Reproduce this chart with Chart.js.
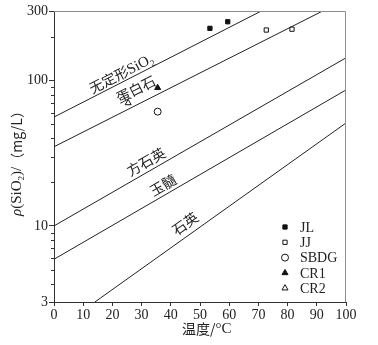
<!DOCTYPE html>
<html>
<head>
<meta charset="utf-8">
<script src="https://cdn.jsdelivr.net/npm/chart.js@4"></script>
<style>
  html, body { margin: 0; padding: 0; background: #fff; }
  #wrap { width: 378px; height: 345px; }
</style>
</head>
<body>
<div id="wrap"><canvas id="chart" width="378" height="345"></canvas></div>
<script>
// solubility lines (temperature °C, SiO2 mg/L)
const lineNames = ['无定形SiO', '蛋白石', '方石英', '玉髓', '石英'];
const lineT = [[0, 71], [0, 92], [0, 100], [0, 100], [14, 100]];
const lineC = [[56, 300], [35, 300], [10, 143], [5.9, 86], [3, 51]];
// label centre for each line
const labelT = [23.0, 28.0, 31.5, 37.3, 44.9];
const labelC = [112, 87, 27.6, 19.1, 10.4];

// samples
const sampleNames = ['JL', 'JJ', 'SBDG', 'CR1', 'CR2'];
const sampleT = [[53.4, 59.5], [72.7, 81.5], [35.5], [35.5], [25.4]];
const sampleC = [[228, 253], [222, 225], [61], [89], [70]];

const xTicks = [0, 10, 20, 30, 40, 50, 60, 70, 80, 90, 100];
const yTicks = [3, 10, 100, 300];
const yMinor = [4, 5, 6, 7, 8, 9, 20, 30, 40, 50, 60, 70, 80, 90, 200];

const serif = '"Liberation Serif", "Times New Roman", serif';
const cjk = '"Noto Sans CJK SC", sans-serif';

const markerStyle = [
  {pointStyle: 'rect', radius: 3, bg: '#111', border: '#111'},
  {pointStyle: 'rect', radius: 3, bg: '#fff', border: '#111'},
  {pointStyle: 'circle', radius: 3.5, bg: '#fff', border: '#111'},
  {pointStyle: 'triangle', radius: 3.5, bg: '#111', border: '#111'},
  {pointStyle: 'triangle', radius: 3.5, bg: '#fff', border: '#111'}
];

const datasets = [];
lineNames.forEach((n, i) => {
  datasets.push({
    type: 'line',
    label: n,
    data: lineT[i].map((t, j) => ({x: t, y: lineC[i][j]})),
    borderColor: '#222',
    borderWidth: 1,
    pointRadius: 0,
    fill: false
  });
});
sampleNames.forEach((n, i) => {
  const m = markerStyle[i];
  datasets.push({
    type: 'scatter',
    label: n,
    data: sampleT[i].map((t, j) => ({x: t, y: sampleC[i][j]})),
    pointStyle: m.pointStyle,
    pointRadius: m.radius,
    backgroundColor: m.bg,
    borderColor: m.border,
    borderWidth: 1
  });
});

const extras = {
  id: 'extras',
  afterDraw(chart) {
    const ctx = chart.ctx;
    const xs = chart.scales.x, ys = chart.scales.y;
    const a = chart.chartArea;
    ctx.save();
    // frame top/right
    ctx.strokeStyle = '#8a8f94';
    ctx.lineWidth = 1;
    ctx.beginPath();
    ctx.moveTo(a.left, a.top + 0.5);
    ctx.lineTo(a.right - 0.5, a.top + 0.5);
    ctx.lineTo(a.right - 0.5, a.bottom);
    ctx.stroke();
    // minor y ticks
    ctx.strokeStyle = '#333';
    ctx.beginPath();
    yMinor.forEach(v => {
      const py = Math.round(ys.getPixelForValue(v)) + 0.5;
      ctx.moveTo(a.left - 3, py);
      ctx.lineTo(a.left, py);
    });
    ctx.stroke();

    // line labels
    ctx.fillStyle = '#222';
    lineNames.forEach((n, i) => {
      const x0 = xs.getPixelForValue(lineT[i][0]), y0 = ys.getPixelForValue(lineC[i][0]);
      const x1 = xs.getPixelForValue(lineT[i][1]), y1 = ys.getPixelForValue(lineC[i][1]);
      const ang = Math.atan2(y1 - y0, x1 - x0);
      const px = xs.getPixelForValue(labelT[i]), py = ys.getPixelForValue(labelC[i]);
      ctx.save();
      ctx.translate(px, py);
      ctx.rotate(ang);
      ctx.textBaseline = 'middle';
      if (i === 0) {
        ctx.font = '14px ' + cjk;
        const w1 = ctx.measureText('无定形').width;
        ctx.font = '15px ' + serif;
        const w2 = ctx.measureText('SiO').width;
        ctx.font = '9px ' + serif;
        const w3 = ctx.measureText('2').width;
        let sx = -(w1 + w2 + w3) / 2;
        ctx.textAlign = 'left';
        ctx.font = '14px ' + cjk;
        ctx.fillText('无定形', sx, 0);
        ctx.font = '15px ' + serif;
        ctx.fillText('SiO', sx + w1, 1);
        ctx.font = '9px ' + serif;
        ctx.fillText('2', sx + w1 + w2, 6);
      } else {
        ctx.font = '14px ' + cjk;
        ctx.textAlign = 'center';
        ctx.fillText(n, 0, 0);
      }
      ctx.restore();
    });

    // legend
    const lx = 285, ly0 = 227, dy = 15.3;
    sampleNames.forEach((n, i) => {
      const m = markerStyle[i];
      const y = ly0 + i * dy;
      ctx.save();
      ctx.fillStyle = m.bg;
      ctx.strokeStyle = m.border;
      ctx.lineWidth = 1;
      Chart.helpers.drawPoint(ctx, {pointStyle: m.pointStyle, radius: m.radius, borderWidth: 1}, lx, y);
      ctx.restore();
      ctx.fillStyle = '#222';
      ctx.font = '14px ' + serif;
      ctx.textAlign = 'left';
      ctx.textBaseline = 'middle';
      ctx.fillText(n, lx + 15, y + 1);
    });

    // y axis title
    ctx.save();
    ctx.translate(17, 160);
    ctx.rotate(-Math.PI / 2);
    ctx.textBaseline = 'middle';
    ctx.textAlign = 'left';
    const parts = [
      ['ρ', 'italic 15px ' + serif, 0],
      ['(SiO', '15px ' + serif, 0],
      ['2', '9px ' + serif, 5],
      [')/', '15px ' + serif, 0],
      ['（mg/L）', '14px ' + cjk, 0]
    ];
    let total = 0;
    parts.forEach(p => { ctx.font = p[1]; total += ctx.measureText(p[0]).width; });
    let sx = -total / 2;
    ctx.fillStyle = '#222';
    parts.forEach(p => {
      ctx.font = p[1];
      ctx.fillText(p[0], sx, p[2]);
      sx += ctx.measureText(p[0]).width;
    });
    ctx.restore();

    // x axis title
    ctx.fillStyle = '#222';
    ctx.textAlign = 'left';
    ctx.textBaseline = 'middle';
    ctx.font = '14px ' + cjk;
    const t1 = '温度/';
    const w1 = ctx.measureText(t1).width;
    ctx.fillText(t1, 182, 329);
    ctx.font = '15px ' + serif;
    ctx.fillText('°C', 182 + w1, 329);
    ctx.restore();
  }
};

const config = {
  data: {datasets},
  options: {
    responsive: false,
    animation: false,
    layout: {padding: {top: 11, right: 32, left: 0, bottom: 0}},
    plugins: {legend: {display: false}, tooltip: {enabled: false}},
    scales: {
      x: {
        type: 'linear',
        min: 0, max: 100,
        afterBuildTicks: s => { s.ticks = xTicks.map(v => ({value: v})); },
        afterFit: s => { s.height = 43; },
        grid: {display: true, drawOnChartArea: false, tickLength: 4, color: '#333'},
        border: {color: '#333', width: 1},
        ticks: {color: '#222', font: {family: serif, size: 14}, padding: 1, maxRotation: 0}
      },
      y: {
        type: 'logarithmic',
        min: 3, max: 300,
        afterBuildTicks: s => { s.ticks = yTicks.map(v => ({value: v})); },
        afterFit: s => { s.width = 54; },
        grid: {display: true, drawOnChartArea: false, tickLength: 5, color: '#333'},
        border: {color: '#333', width: 1},
        ticks: {color: '#222', font: {family: serif, size: 14}, padding: 1, callback: v => String(v)}
      }
    }
  },
  plugins: [extras]
};

const myChart = new Chart(document.getElementById('chart'), config);
</script>
</body>
</html>
